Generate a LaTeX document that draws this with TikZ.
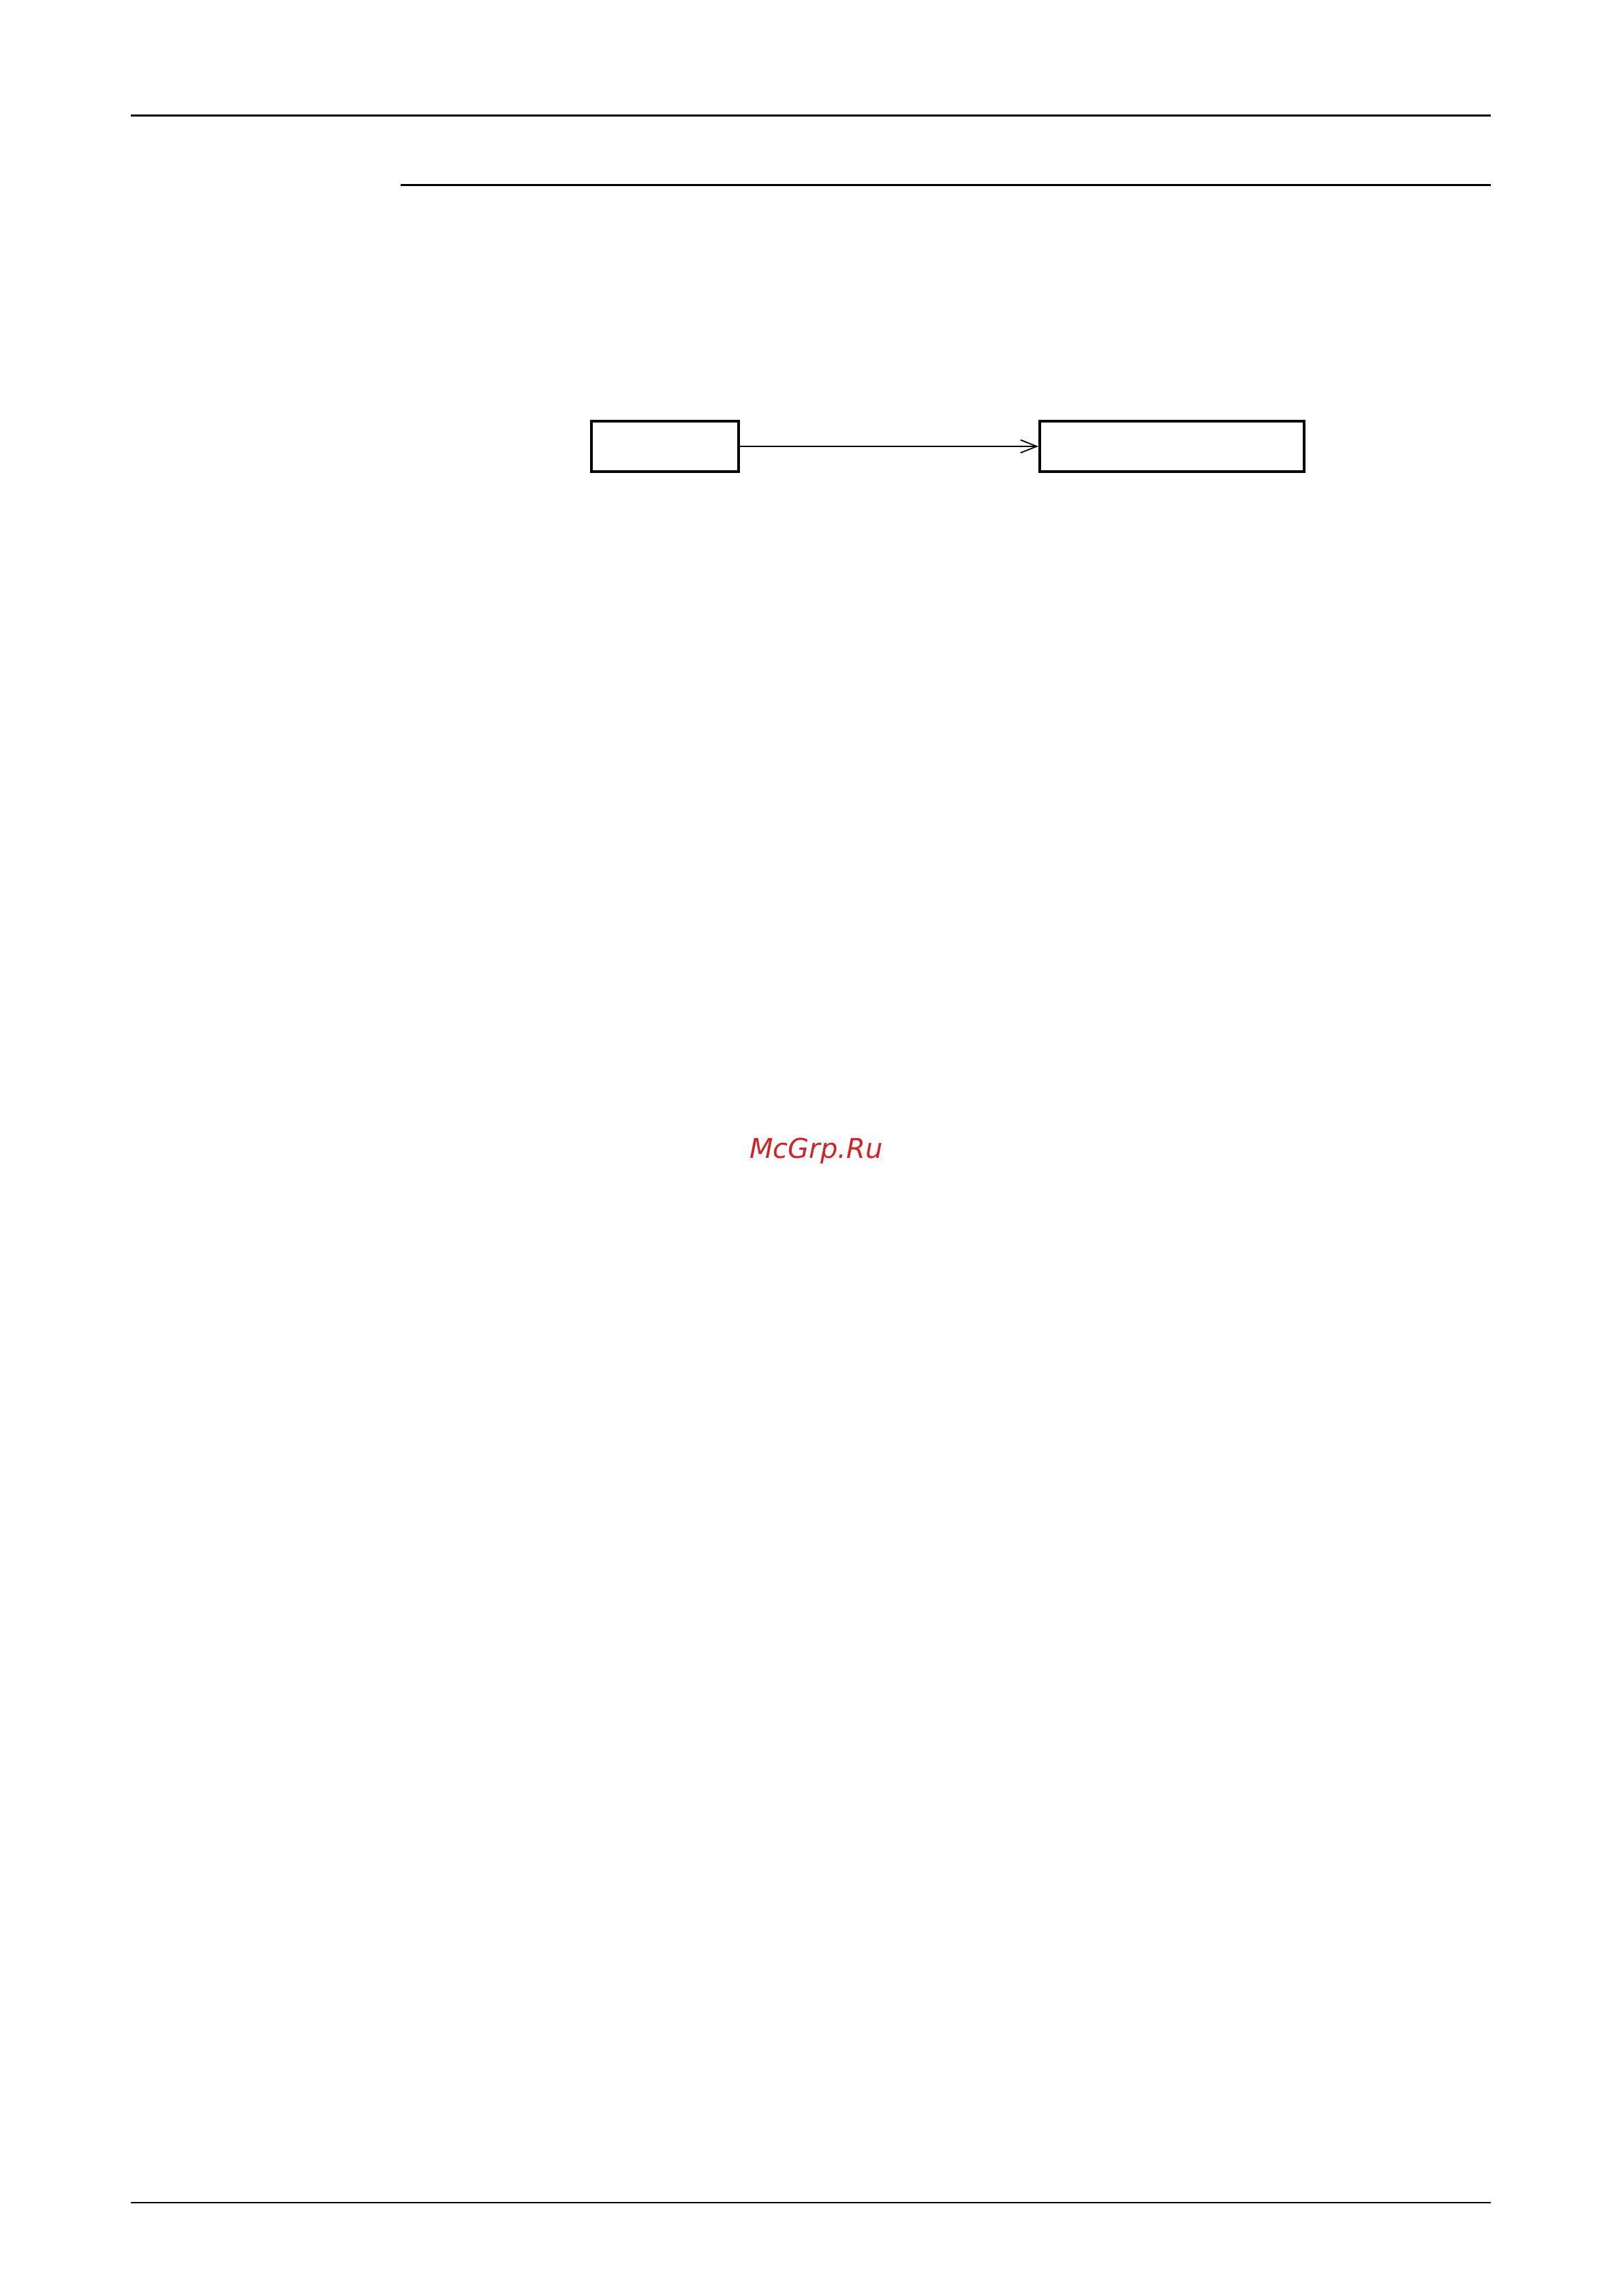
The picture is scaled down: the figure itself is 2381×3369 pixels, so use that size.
\documentclass[tikz,border=0pt]{standalone}
\usepackage{fontspec}
\usetikzlibrary{positioning,arrows.meta}
\newfontfamily\markfont{DejaVu Sans}
\definecolor{markred}{RGB}{212,34,38}
\tikzset{
    rulefull/.style={line width=0.6pt},
    blockbox/.style={draw,line width=1pt,inner sep=0pt,minimum height=18.5pt},
    flowarrow/.style={line width=0.45pt,-{Straight Barb[length=6pt,width=4.75pt]}},
}
\newcommand{\pageRule}[3]{%
    \draw[rulefull] (#1,#3) -- (#2,#3);
}

\begin{document}
\begin{tikzpicture}[x=0.25pt,y=-0.25pt]
    \useasboundingbox (0,0) rectangle (2381,3369);
    %rules
    \pageRule{191.7}{2187.7}{169.5}
    \pageRule{587.7}{2187.7}{271.7}
    \pageRule{191.7}{2187.7}{3231.7}
    %blocks
    \node[blockbox,minimum width=54pt] (src) at (976,655) {};
    \node[blockbox,minimum width=96.9pt] (dst) at (1719.9,655) {};
    %edge
    \draw[flowarrow] (src.east) -- (dst.west);
    %mark
    \node[anchor=base,inner sep=0pt,text=markred,font=\markfont\itshape\fontsize{10pt}{12pt}\selectfont] (mark) at (1198,1699.3) {McGrp.Ru};
\end{tikzpicture}
\end{document}
